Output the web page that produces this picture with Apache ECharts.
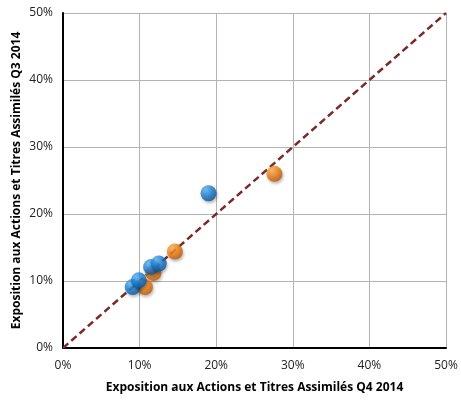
<!DOCTYPE html>
<html>
<head>
<meta charset="utf-8">
<script src="https://cdn.jsdelivr.net/npm/echarts@6/dist/echarts.min.js"></script>
<style>
  html, body { margin: 0; padding: 0; background: #fff; }
  #chart { width: 461px; height: 400px; }
</style>
</head>
<body>
<div id="chart"></div>
<script>
// values in %, [Q4 2014, Q3 2014]
const bluePoints = [
  [19.0, 23.1],
  [9.1, 9.1],
  [9.9, 10.1],
  [11.5, 12.1],
  [12.5, 12.6]
]
const orangePoints = [
  [27.6, 26.0],
  [14.6, 14.4],
  [11.8, 11.2],
  [10.7, 9.1]
]
const diagonal = [[0, 0], [50, 50]]
const axisMax = 50
const xTitle = 'Exposition aux Actions et Titres Assimilés Q4 2014'
const yTitle = 'Exposition aux Actions et Titres Assimilés Q3 2014'

const sphere = (light, base, dark) => new echarts.graphic.RadialGradient(0.35, 0.3, 0.75, [
  { offset: 0, color: light },
  { offset: 0.5, color: base },
  { offset: 1, color: dark }
])

const chart = echarts.init(document.getElementById('chart'))
const font = '"Open Sans", "Liberation Sans", sans-serif'

const axisCommon = {
  type: 'value',
  min: 0,
  max: axisMax,
  interval: 10,
  axisLabel: { formatter: '{value}%', color: '#222', fontSize: 12, fontFamily: font },
  axisLine: { show: true, lineStyle: { color: '#000', width: 2 } },
  axisTick: { show: false },
  splitLine: { show: true, lineStyle: { color: '#b3b3b3', width: 1 } },
  nameLocation: 'middle',
  nameMoveOverlap: false,
  nameTextStyle: { fontWeight: 'bold', fontSize: 12, color: '#000', fontFamily: font }
}

chart.setOption({
  animation: false,
  grid: { left: 63, right: 15, top: 13, bottom: 52 },
  xAxis: { ...axisCommon, axisLabel: { ...axisCommon.axisLabel, margin: 12 }, name: xTitle, nameGap: 34 },
  yAxis: { ...axisCommon, axisLabel: { ...axisCommon.axisLabel, margin: 10 }, name: yTitle, nameGap: 40 },
  series: [
    {
      type: 'line',
      data: diagonal,
      symbol: 'none',
      lineStyle: { color: '#7b2a2a', width: 2.5, type: [7, 4] },
      z: 1
    },
    {
      type: 'scatter',
      data: orangePoints,
      symbolSize: 16,
      itemStyle: {
        color: sphere('#ffb45a', '#f07f10', '#b8560a'),
        shadowColor: 'rgba(0,0,0,0.35)', shadowBlur: 3, shadowOffsetX: 1, shadowOffsetY: 2
      },
      z: 2
    },
    {
      type: 'scatter',
      data: bluePoints,
      symbolSize: 16,
      itemStyle: {
        color: sphere('#5fb8f5', '#1a7fd4', '#0b4f94'),
        shadowColor: 'rgba(0,0,0,0.35)', shadowBlur: 3, shadowOffsetX: 1, shadowOffsetY: 2
      },
      z: 3
    }
  ]
})
</script>
</body>
</html>
